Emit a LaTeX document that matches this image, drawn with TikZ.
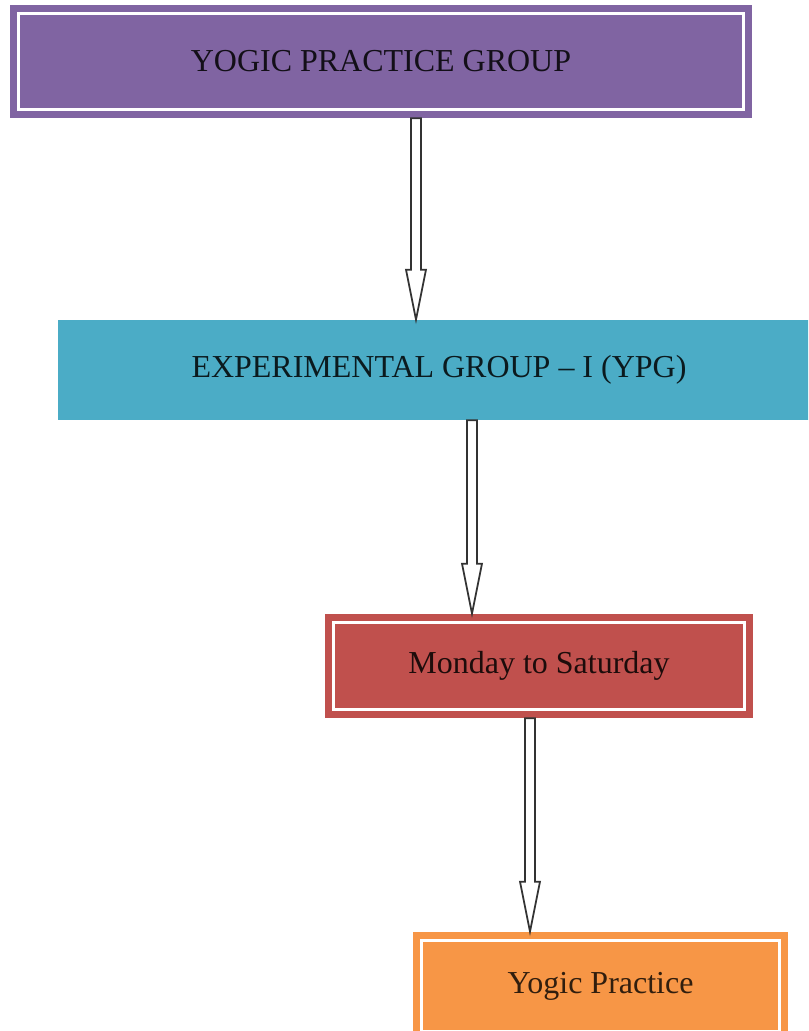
\documentclass[tikz,border=0pt]{standalone}
\usepackage{fontspec}
\setmainfont{Liberation Serif}
\usetikzlibrary{calc}

\definecolor{ypgpurple}{HTML}{8064A2}
\definecolor{ypgteal}{HTML}{4BACC6}
\definecolor{ypgred}{HTML}{C0504D}
\definecolor{ypgorange}{HTML}{F79646}

\newcommand{\hollowarrow}[2]{%
  \draw[arrowline] let \p1=(#1), \p2=(#2) in
    (\x1-0.1cm,\y1) -- (\x1-0.1cm,\y2+1cm) -- (\x1-0.2cm,\y2+1cm) -- (\x2,\y2)
    -- (\x1+0.2cm,\y2+1cm) -- (\x1+0.1cm,\y2+1cm) -- (\x1+0.1cm,\y1) -- cycle;}

\begin{document}
\begin{tikzpicture}[
  box/.style={rectangle,inner sep=0pt,font=\fontsize{18.2}{22}\selectfont},
  innerframe/.style={draw=white,line width=2pt},
  arrowline/.style={draw=black!80,fill=white,line width=1pt,line join=miter}]
\clip (0,0) rectangle (16.16,-20.62);
% boxes
\node[box,fill=ypgpurple,text=black!85!ypgpurple,minimum width=14.84cm,minimum height=2.26cm] (yogic) at (7.62,-1.23) {YOGIC PRACTICE GROUP};
\node[box,fill=ypgteal,text=black!85!ypgteal,minimum width=15.24cm,minimum height=2.0cm] (expgrp) at (8.78,-7.40) {EXPERIMENTAL GROUP -- I (YPG)};
\node[box,fill=ypgred,text=black!85!ypgred,minimum width=8.56cm,minimum height=2.08cm] (monsat) at (10.78,-13.32) {Monday to Saturday};
\node[box,fill=ypgorange,text=black!80!ypgorange,minimum width=7.5cm,minimum height=2.16cm] (practice) at (12.01,-19.72) {Yogic Practice};
% white inner frames
\foreach \n in {yogic,monsat,practice}
  \draw[innerframe] ([shift={(0.18,-0.18)}]\n.north west) rectangle ([shift={(-0.18,0.18)}]\n.south east);
% arrow columns
\coordinate (a1) at (8.32,0);
\coordinate (a2) at (9.44,0);
\coordinate (a3) at (10.60,0);
% hollow arrows
\hollowarrow{yogic.south -| a1}{expgrp.north -| a1}
\hollowarrow{expgrp.south -| a2}{monsat.north -| a2}
\hollowarrow{monsat.south -| a3}{practice.north -| a3}
\end{tikzpicture}
\end{document}
